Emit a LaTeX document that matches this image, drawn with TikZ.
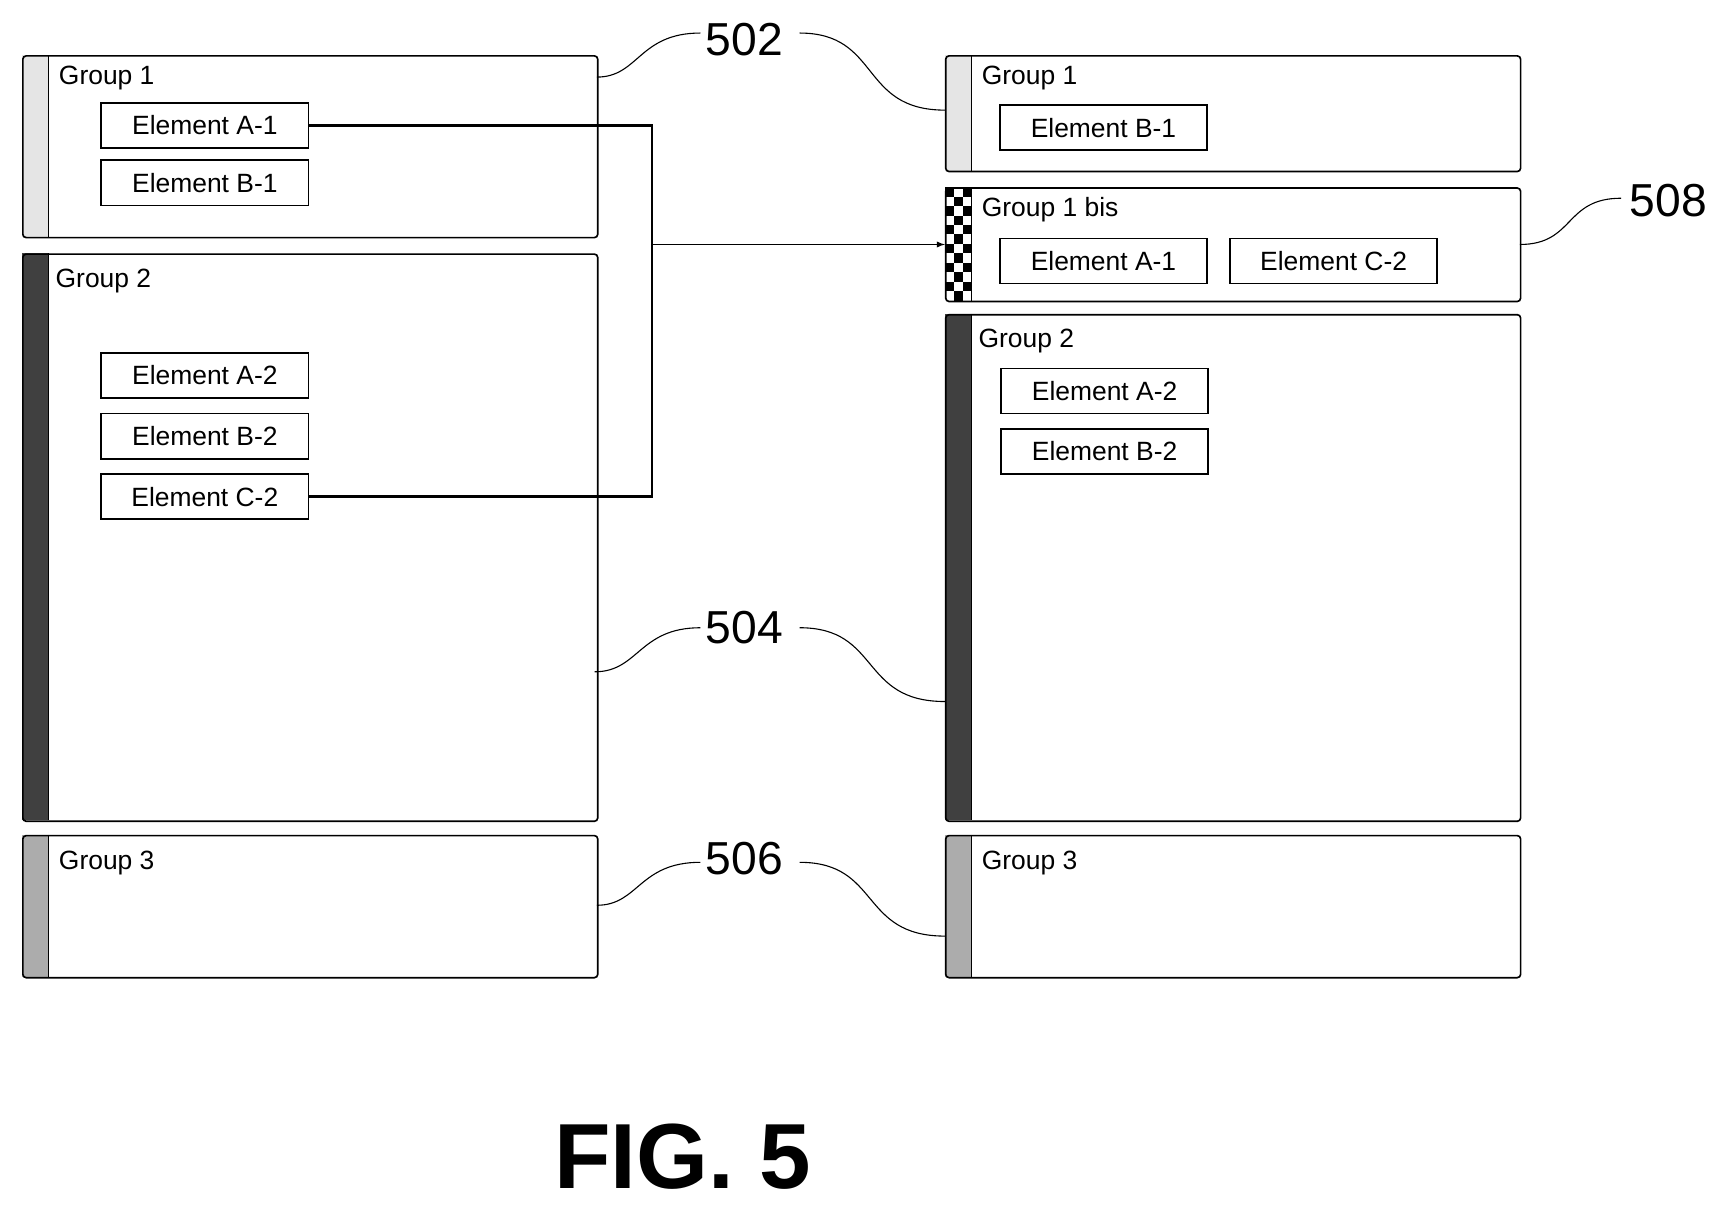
\documentclass[tikz,border=0pt]{standalone}
\usepackage{fontspec}
\setmainfont{Liberation Sans}
\begin{document}
\begin{tikzpicture}[x=1pt,y=-1pt,
  grp/.style={draw,line width=1.5pt,rounded corners=3pt},
  el/.style={draw,line width=1.5pt,minimum width=188pt,minimum height=41pt,inner sep=0pt,font=\fontsize{24}{28}\selectfont},
  gl/.style={anchor=west,font=\fontsize{24}{28}\selectfont},
  num/.style={font=\fontsize{42}{50}\selectfont},
  lead/.style={line width=1pt},
  conn/.style={line width=2.5pt}]
\useasboundingbox (0,0) rectangle (1560,1097);
\newcommand{\grpbox}[6]{%
  \fill[#6] (#1,#2) rectangle (#1+24,#4);
  \draw[line width=1.5pt] (#1+24,#2) -- (#1+24,#4);
  \node[grp,minimum width=#3-#1,minimum height=#4-#2,anchor=north west,inner sep=0pt] (#5) at (#1,#2) {};}
\grpbox{20}{50}{542}{215}{L1}{gray!20}
\grpbox{20}{230}{542}{745}{L2}{black!75}
\grpbox{20}{758}{542}{887}{L3}{gray!65}
\grpbox{858}{50}{1380}{155}{R1}{gray!20}
\grpbox{858}{285}{1380}{745}{R2}{black!75}
\grpbox{858}{758}{1380}{887}{R3}{gray!65}
\foreach \i in {0,...,11}{\foreach \j in {0,1,2}{%
  \pgfmathsetmacro{\p}{mod(\i+\j,2)}
  \ifdim\p pt=0pt \fill[black] (858+\j*8,170+\i*8.58) rectangle ++(8,8.58);\fi}}
\grpbox{858}{170}{1380}{273}{R1b}{fill opacity=0}
% group labels
\node[gl] (tL1) at (50,71) {Group 1};
\node[gl] (tL2) at (47,255) {Group 2};
\node[gl] (tL3) at (50,784) {Group 3};
\node[gl] (tR1) at (888,71) {Group 1};
\node[gl] (tR1b) at (888,190) {Group 1 bis};
\node[gl] (tR2) at (885,310) {Group 2};
\node[gl] (tR3) at (888,784) {Group 3};
% elements
\node[el] (la1) at (186,114) {Element A-1};
\node[el] (lb1) at (186,166) {Element B-1};
\node[el] (la2) at (186,341) {Element A-2};
\node[el] (lb2) at (186,396) {Element B-2};
\node[el] (lc2) at (186,451) {Element C-2};
\node[el] (rb1) at (1002,116) {Element B-1};
\node[el] (ra1) at (1002,237) {Element A-1};
\node[el] (rc2) at (1211,237) {Element C-2};
\node[el] (ra2) at (1003,355) {Element A-2};
\node[el] (rb2) at (1003,410) {Element B-2};
% connectors
\coordinate (j) at (592,222);
\draw[conn] (la1.east) -- (592,114) -- (592,451) -- (lc2.east);
\draw[line width=1.5pt,-latex] (j) -- (R1b.west|-j);
% reference numerals
\node[num] (n502) at (676,36) {502};
\node[num] (n504) at (676,570) {504};
\node[num] (n506) at (676,780) {506};
\node[num] (n508) at (1515,182) {508};
\draw[lead] (542,70) .. controls (580,70) and (580,30) .. (636,30);
\draw[lead] (726,30) .. controls (800,30) and (780,100) .. (858,100);
\draw[lead] (540,610) .. controls (580,610) and (580,570) .. (636,570);
\draw[lead] (726,570) .. controls (800,570) and (780,637) .. (858,637);
\draw[lead] (542,822) .. controls (580,822) and (580,783) .. (636,783);
\draw[lead] (726,783) .. controls (800,783) and (780,850) .. (858,850);
\draw[lead] (1380,222) .. controls (1430,222) and (1420,180) .. (1472,180);
\node[font=\fontsize{84}{90}\selectfont\bfseries] (fig) at (620,1050) {FIG. 5};
\end{tikzpicture}
\end{document}
